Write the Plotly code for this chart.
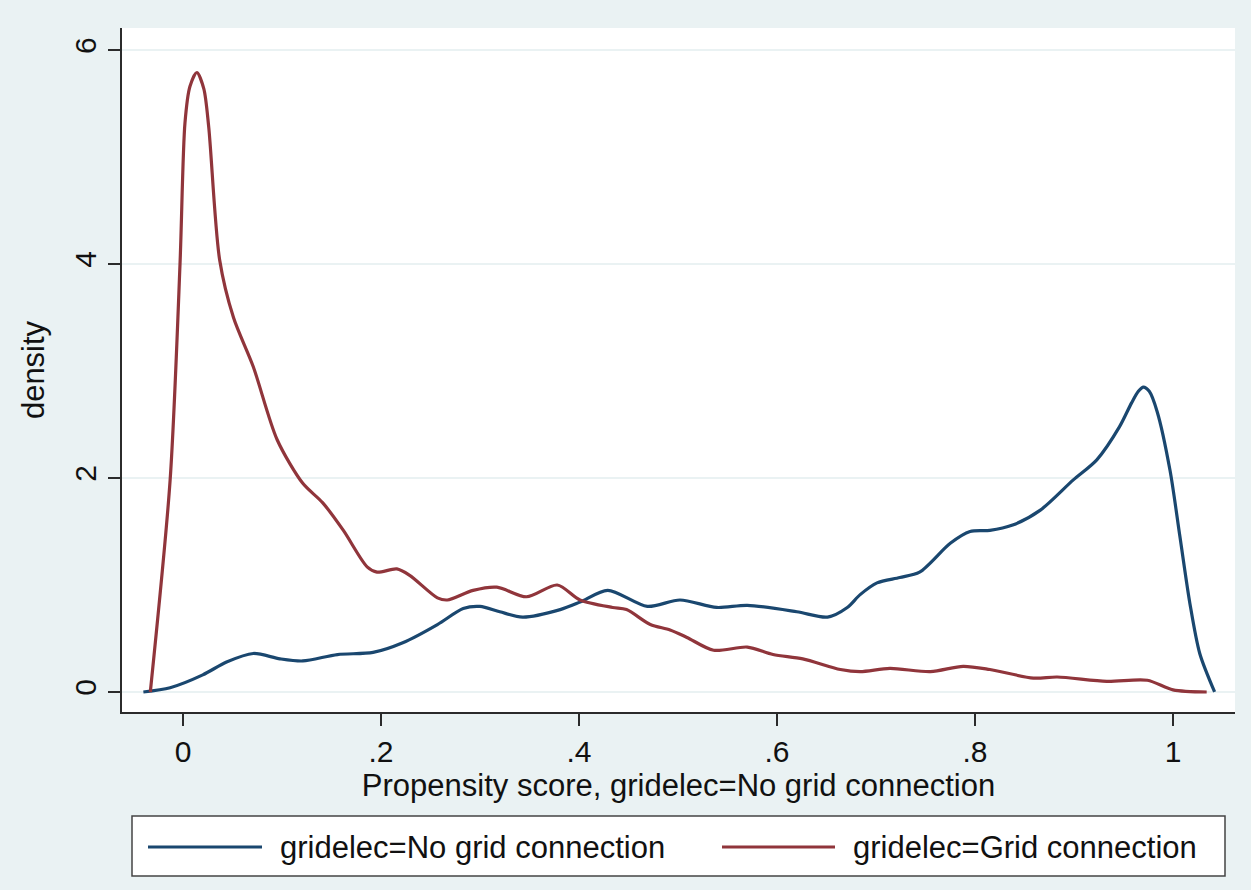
import plotly.graph_objects as go

# ---- data ----
no_grid_x = [-0.040, -0.013, 0.020, 0.044, 0.071, 0.098, 0.121, 0.156, 0.192, 0.222, 0.257, 0.283,
             0.300, 0.320, 0.343, 0.381, 0.401, 0.429, 0.469, 0.502, 0.539, 0.570, 0.620, 0.651,
             0.671, 0.684, 0.701, 0.724, 0.744, 0.775, 0.795, 0.815, 0.838, 0.866, 0.899, 0.923,
             0.946, 0.958, 0.965, 0.970, 0.976, 0.984, 0.997, 1.007, 1.017, 1.027, 1.042]
no_grid_y = [0.00, 0.04, 0.16, 0.28, 0.36, 0.31, 0.29, 0.35, 0.37, 0.46, 0.63, 0.78,
             0.80, 0.75, 0.70, 0.77, 0.84, 0.95, 0.80, 0.86, 0.79, 0.81, 0.75, 0.70,
             0.79, 0.91, 1.02, 1.07, 1.12, 1.39, 1.50, 1.51, 1.56, 1.70, 1.98, 2.17,
             2.48, 2.70, 2.81, 2.85, 2.81, 2.62, 2.07, 1.45, 0.83, 0.36, 0.00]

grid_x = [-0.033, -0.013, -0.003, 0.002, 0.007, 0.014, 0.021, 0.026, 0.037, 0.051, 0.071, 0.095,
          0.121, 0.141, 0.162, 0.186, 0.196, 0.216, 0.229, 0.257, 0.267, 0.293, 0.317, 0.347,
          0.378, 0.401, 0.434, 0.448, 0.472, 0.492, 0.509, 0.536, 0.570, 0.596, 0.626, 0.664,
          0.684, 0.714, 0.755, 0.788, 0.815, 0.859, 0.883, 0.933, 0.974, 1.000, 1.034]
grid_y = [0.00, 1.98, 4.00, 5.32, 5.66, 5.79, 5.64, 5.28, 4.04, 3.50, 3.04, 2.36,
          1.95, 1.77, 1.51, 1.17, 1.12, 1.15, 1.09, 0.88, 0.86, 0.95, 0.98, 0.89,
          1.00, 0.86, 0.79, 0.77, 0.63, 0.58, 0.51, 0.39, 0.42, 0.35, 0.31, 0.21,
          0.19, 0.22, 0.19, 0.24, 0.21, 0.13, 0.14, 0.10, 0.11, 0.02, 0.00]

x_tick_vals = [0, 0.2, 0.4, 0.6, 0.8, 1]
x_tick_text = ["0", ".2", ".4", ".6", ".8", "1"]
y_tick_vals = [0, 2, 4, 6]
y_tick_text = ["0", "2", "4", "6"]

series_names = ["gridelec=No grid connection", "gridelec=Grid connection"]
x_title = "Propensity score, gridelec=No grid connection"
y_title = "density"

# ---- styling ----
BLUE = "#1a476f"
RED = "#90353b"
BG = "#eaf2f3"
AX = "#2b2b2b"
FONT = "Liberation Sans, Arial, Helvetica, sans-serif"
FS = 31
FT = 30

W, H = 1251, 890
L, R, T, B = 122, 1235, 28, 712  # plot area in pixels


def px(xp):
    return (xp - L) / (R - L)


def py(yp):
    return (B - yp) / (B - T)


fig = go.Figure()
fig.add_trace(go.Scatter(x=no_grid_x, y=no_grid_y, mode="lines", name=series_names[0],
                         line=dict(color=BLUE, width=3.2, shape="spline", smoothing=0.8),
                         showlegend=False))
fig.add_trace(go.Scatter(x=grid_x, y=grid_y, mode="lines", name=series_names[1],
                         line=dict(color=RED, width=3.2, shape="spline", smoothing=0.8),
                         showlegend=False))

# manual legend box (Stata style)
shapes = [
    dict(type="rect", xref="paper", yref="paper", x0=px(132), x1=px(1225), y0=py(876), y1=py(816),
         fillcolor="white", line=dict(color="#444444", width=1.5), layer="below"),
    dict(type="line", xref="paper", yref="paper", x0=px(148), x1=px(262), y0=py(847), y1=py(847),
         line=dict(color=BLUE, width=3)),
    dict(type="line", xref="paper", yref="paper", x0=px(722), x1=px(835), y0=py(847), y1=py(847),
         line=dict(color=RED, width=3)),
]
annotations = [
    dict(xref="paper", yref="paper", x=px(278), y=py(848), text=series_names[0], showarrow=False,
         xanchor="left", yanchor="middle", font=dict(family=FONT, size=FS, color="#111111")),
    dict(xref="paper", yref="paper", x=px(851), y=py(848), text=series_names[1], showarrow=False,
         xanchor="left", yanchor="middle", font=dict(family=FONT, size=FS, color="#111111")),
]

fig.update_layout(
    width=W, height=H,
    margin=dict(l=L, r=W - R, t=T, b=H - B, pad=0),
    paper_bgcolor=BG, plot_bgcolor="white",
    font=dict(family=FONT, size=FS, color="#111111"),
    shapes=shapes, annotations=annotations,
    showlegend=False,
    xaxis=dict(range=[-0.0616, 1.0626], tickvals=x_tick_vals, ticktext=x_tick_text,
               showgrid=False, zeroline=False, showline=True, linecolor=AX, linewidth=1.5,
               ticks="outside", ticklen=12, tickwidth=1.5, tickcolor=AX,
               title=dict(text=x_title, standoff=4, font=dict(size=FS)),
               tickfont=dict(size=FT)),
    yaxis=dict(range=[-0.187, 6.206], tickvals=y_tick_vals, ticktext=y_tick_text,
               showgrid=True, gridcolor=BG, gridwidth=2, zeroline=False,
               showline=True, linecolor=AX, linewidth=1.5,
               ticks="outside", ticklen=12, tickwidth=1.5, tickcolor=AX, tickangle=-90,
               title=dict(text=y_title, standoff=15, font=dict(size=FS)),
               tickfont=dict(size=FT)),
)

fig.write_html("out.html",
               config={"displayModeBar": False},
               post_script="document.body.style.margin='0';document.body.style.padding='0';"
                           "document.body.style.background='" + BG + "';")
